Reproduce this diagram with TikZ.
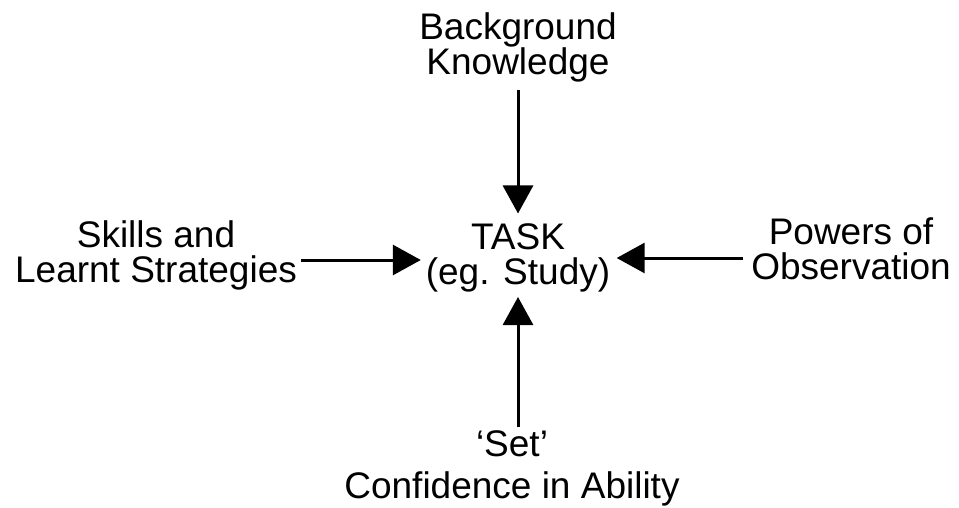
\documentclass[tikz,border=0pt]{standalone}
\usepackage{fontspec}
\setmainfont{Liberation Sans}
\usetikzlibrary{arrows.meta}
\begin{document}
\begin{tikzpicture}[x=1pt,y=-1pt,
  lbl/.style={font=\fontsize{37}{34.5}\selectfont, align=center, inner sep=0pt, outer sep=0pt},
  arr/.style={line width=3pt, -{Triangle[width=30pt,length=28pt]}}]
\useasboundingbox (0,0) rectangle (959,508);
\node[lbl] (bk) at (518,47.5) {Background\\Knowledge};
\node[lbl] (task) at (518,258) {TASK\\(eg. Study)};
\node[lbl] (sk) at (156,255.5) {Skills and\\Learnt Strategies};
\node[lbl] (po) at (851,249) {Powers of\\Observation};
\node[lbl] (set) at (512,468.5) {‘Set’\\[8pt]Confidence in Ability};
\draw[arr] ([yshift=-8pt]bk.south) -- ([yshift=10.5pt]task.north);
\draw[arr] ([yshift=3pt]task.south |- set.north) -- ([yshift=-5pt]task.south);
\draw[arr] ([xshift=4pt,yshift=-2pt]sk.east |- task.center) -- ([xshift=-5pt,yshift=-2pt]task.west |- task.center);
\draw[arr] ([xshift=-8pt]po.west |- task.center) -- ([xshift=6.5pt]task.east);
\end{tikzpicture}
\end{document}
